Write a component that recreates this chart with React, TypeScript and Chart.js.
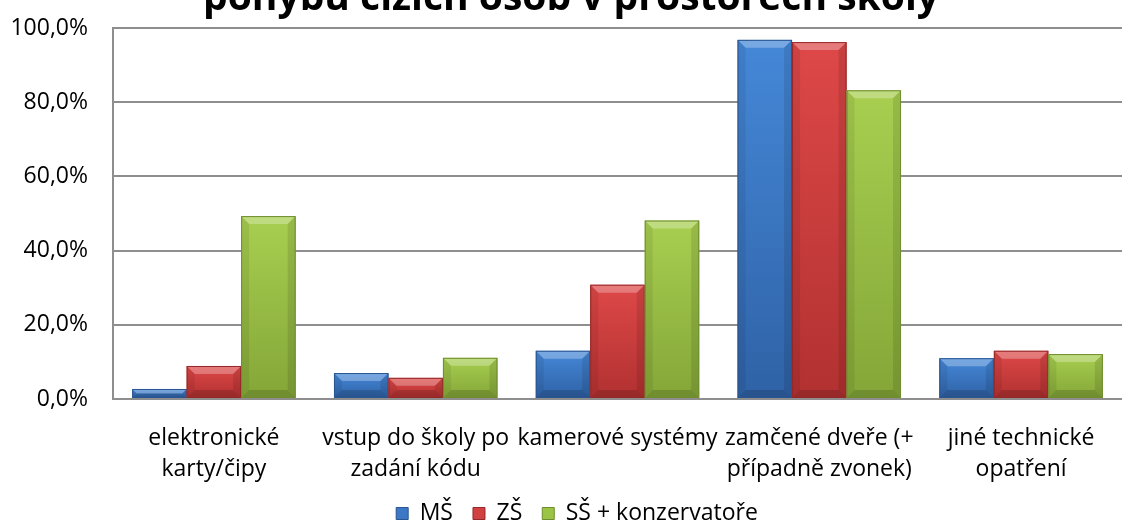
import React, { useEffect, useRef } from "react";
import { Chart, registerables } from "chart.js";

Chart.register(...registerables);

const TITLE = "pohybu cizích osob v prostorech školy";
const categories = [
  ["elektronické", "karty/čipy"],
  ["vstup do školy po", "zadání kódu"],
  ["kamerové systémy"],
  ["zamčené dveře (+", "případně zvonek)"],
  ["jiné technické", "opatření"],
];
const seriesNames = ["MŠ", "ZŠ", "SŠ + konzervatoře"];
const msValues = [2.7, 7.0, 13.0, 96.8, 11.0];
const zsValues = [8.9, 5.7, 30.8, 96.2, 13.0];
const ssValues = [49.3, 11.1, 48.1, 83.2, 12.1];
const yMin = 0;
const yMax = 100;
const yStep = 20;

const palettes = [
  { base: "#3c78c6", top: "#4588d8", bottom: "#2f62a6", border: "#2a5590" },
  { base: "#d24141", top: "#de4848", bottom: "#b23131", border: "#952828" },
  { base: "#9bc445", top: "#a8cf50", bottom: "#84a638", border: "#6f8d2e" },
];

const FONT = "'Open Sans', 'Noto Sans', sans-serif";

const titlePlugin = {
  id: "cutTitle",
  afterDraw(chart: any) {
    const ctx = chart.ctx;
    ctx.save();
    ctx.font = `bold 39px ${FONT}`;
    ctx.fillStyle = "#000";
    ctx.textAlign = "center";
    ctx.textBaseline = "alphabetic";
    ctx.fillText(TITLE, 571, 10);
    ctx.restore();
  },
};

const legendShiftPlugin = {
  id: "legendShift",
  afterLayout(chart: any) {
    const lg = chart.legend;
    if (lg) {
      lg.left += 16;
      lg.right += 16;
    }
  },
};

const bevelPlugin = {
  id: "bevelBars",
  afterDatasetsDraw(chart: any) {
    const ctx = chart.ctx;
    chart.data.datasets.forEach((_ds: any, i: number) => {
      const meta = chart.getDatasetMeta(i);
      const pal = palettes[i];
      meta.data.forEach((bar: any) => {
        const { x, y, base, width } = bar.getProps(["x", "y", "base", "width"], true);
        const left = x - width / 2;
        const right = x + width / 2;
        const top = Math.min(y, base);
        const bottom = Math.max(y, base);
        const h = bottom - top;
        if (h <= 0) return;
        ctx.save();
        const g = ctx.createLinearGradient(0, top, 0, bottom);
        g.addColorStop(0, pal.top);
        g.addColorStop(1, pal.bottom);
        ctx.fillStyle = g;
        ctx.fillRect(left, top, width, h);
        const b = Math.min(8, h / 2, width / 2);
        ctx.fillStyle = "rgba(255,255,255,0.28)";
        ctx.beginPath();
        ctx.moveTo(left, top);
        ctx.lineTo(right, top);
        ctx.lineTo(right - b, top + b);
        ctx.lineTo(left + b, top + b);
        ctx.closePath();
        ctx.fill();
        ctx.fillStyle = "rgba(0,0,0,0.15)";
        ctx.beginPath();
        ctx.moveTo(left, bottom);
        ctx.lineTo(right, bottom);
        ctx.lineTo(right - b, bottom - b);
        ctx.lineTo(left + b, bottom - b);
        ctx.closePath();
        ctx.fill();
        ctx.fillStyle = "rgba(0,0,0,0.07)";
        ctx.beginPath();
        ctx.moveTo(left, top);
        ctx.lineTo(left + b, top + b);
        ctx.lineTo(left + b, bottom - b);
        ctx.lineTo(left, bottom);
        ctx.closePath();
        ctx.fill();
        ctx.fillStyle = "rgba(0,0,0,0.1)";
        ctx.beginPath();
        ctx.moveTo(right, top);
        ctx.lineTo(right - b, top + b);
        ctx.lineTo(right - b, bottom - b);
        ctx.lineTo(right, bottom);
        ctx.closePath();
        ctx.fill();
        ctx.strokeStyle = pal.border;
        ctx.lineWidth = 1;
        ctx.strokeRect(left + 0.5, top + 0.5, width - 1, h - 1);
        ctx.restore();
      });
    });
  },
};

export default function App() {
  const canvasRef = useRef<HTMLCanvasElement | null>(null);

  useEffect(() => {
    if (!canvasRef.current) return;
    const seriesValues = [msValues, zsValues, ssValues];
    const chart = new Chart(canvasRef.current, {
      type: "bar",
      data: {
        labels: categories,
        datasets: seriesNames.map((name, i) => ({
          label: name,
          data: seriesValues[i],
          backgroundColor: palettes[i].base,
          borderColor: palettes[i].border,
          borderWidth: 1,
          barPercentage: 1,
          categoryPercentage: 0.81,
        })),
      },
      options: {
        animation: false,
        responsive: false,
        devicePixelRatio: 1,
        layout: { padding: { top: 28, left: 0, right: 0, bottom: 0 } },
        plugins: {
          title: { display: false },
          tooltip: { enabled: false },
          legend: {
            position: "bottom",
            labels: {
              boxWidth: 12,
              boxHeight: 12,
              padding: 20,
              color: "#000",
              font: { size: 23, family: FONT },
            },
          },
        },
        scales: {
          x: {
            grid: { display: false, drawTicks: false },
            border: { display: true, color: "#8e8e8e", width: 2 },
            ticks: {
              color: "#000",
              font: { size: 23, family: FONT, lineHeight: 1.35 },
              padding: 24,
              maxRotation: 0,
              autoSkip: false,
            },
            afterFit: (s: any) => {
              s.height = 83;
            },
          },
          y: {
            min: yMin,
            max: yMax,
            grid: { color: "#8e8e8e", lineWidth: 2, drawTicks: false },
            border: { display: true, color: "#8e8e8e", width: 2 },
            ticks: {
              stepSize: yStep,
              color: "#000",
              padding: 25,
              font: { size: 23, family: FONT },
              callback: (v: any) => Number(v).toFixed(1).replace(".", ",") + "%",
            },
            afterFit: (s: any) => {
              s.width = 113;
              s.paddingTop = 14;
              s.paddingBottom = 14;
            },
          },
        },
      },
      plugins: [bevelPlugin, titlePlugin, legendShiftPlugin],
    });
    return () => chart.destroy();
  }, []);

  return (
    <div style={{ position: "absolute", left: 0, top: 0, width: 1122, height: 525, overflow: "hidden", background: "#fff" }}>
      <canvas ref={canvasRef} width={1122} height={535} />
    </div>
  );
}
